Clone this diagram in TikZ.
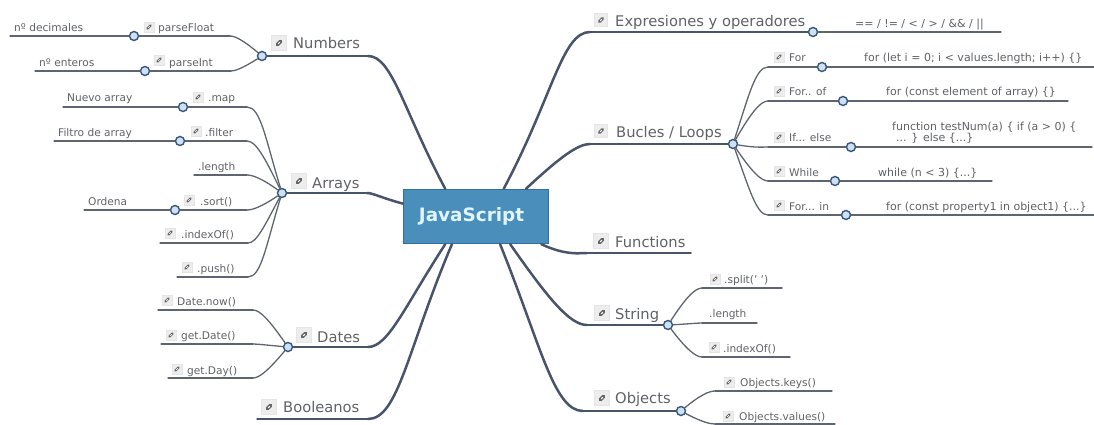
\documentclass[tikz,border=0pt]{standalone}
\usepackage{fontspec}
\setmainfont{DejaVu Sans}
\usepackage{tikz}
\usepackage{xcolor}
\definecolor{rootblue}{HTML}{4A8FBB}
\definecolor{rootedge}{HTML}{336F9E}
\definecolor{trunkcol}{HTML}{48546A}
\definecolor{twigcol}{HTML}{5F656F}
\definecolor{dotfill}{HTML}{CFE0F3}
\definecolor{dotedge}{HTML}{35587F}
\definecolor{txtcol}{HTML}{5F6266}
\tikzset{
  root/.style={rectangle,fill=rootblue,draw=rootedge,line width=1.4pt,text=white!88!cyan,font=\fontsize{18.4}{21}\selectfont\bfseries,minimum width=145pt,minimum height=54pt,inner sep=0pt},
  dot/.style={circle,fill=dotfill,draw=dotedge,line width=1.4pt,minimum size=9pt,inner sep=0pt},
  big/.style={anchor=base west,inner sep=0pt,text=txtcol,font=\fontsize{14.7}{17}\selectfont},
  small/.style={anchor=base west,inner sep=0pt,text=txtcol,font=\fontsize{10.6}{12.5}\selectfont},
  code/.style={anchor=base west,inner sep=0pt,text=txtcol,font=\fontsize{11}{12.5}\selectfont},
  linkicon/.style={rectangle,fill=black!7,draw=black!10,line width=0.4pt,minimum size=#1 pt,inner sep=0pt,
    path picture={
      \draw[shift={(path picture bounding box.center)},scale=0.1*#1,color=black!60,line width=0.24*#1 pt,line cap=round] (-1.6,1.6) -- (1.6,-1.6);
      \draw[shift={(path picture bounding box.center)},scale=0.1*#1,color=white,line width=0.07*#1 pt] (-0.8,0.8) -- (0.8,-0.8);
    }},
  trunk/.style={color=trunkcol,line width=2.5pt,line cap=round},
  limb/.style={color=trunkcol,line width=1.5pt,line cap=round},
  twig/.style={color=twigcol,line width=1.3pt,line cap=round},
  bow/.style={out looseness=1.5,in looseness=0.4},
}
\begin{document}
\begin{tikzpicture}[x=1pt,y=-1pt]
\useasboundingbox (0,0) rectangle (1094,425);
\node (root) [root] at (476,216.5) {\raisebox{-3pt}{JavaScript}\hspace*{9pt}};
% left side
\node (numdot) [dot] at (262,56) {};
\node (pfdot) [dot] at (134,36) {};
\node (pidot) [dot] at (145,71) {};
\node (arrdot) [dot] at (282,193) {};
\node (mapdot) [dot] at (183,107) {};
\node (fildot) [dot] at (180,141) {};
\node (sortdot) [dot] at (175,210) {};
\node (datedot) [dot] at (288,347) {};
% right side
\node (expdot) [dot] at (813,32) {};
\node (loopdot) [dot] at (733,144) {};
\node (fordot) [dot] at (822,67) {};
\node (ofdot) [dot] at (843,101) {};
\node (ifdot) [dot] at (851,147) {};
\node (whdot) [dot] at (835,181) {};
\node (indot) [dot] at (846,215) {};
\node (strdot) [dot] at (668,325) {};
\node (objdot) [dot] at (681,411) {};
%
\coordinate (numel) at (368,56);
\coordinate (pfel) at (230,36);
\coordinate (pfend) at (10,36);
\coordinate (piel) at (231,71);
\coordinate (piend) at (35,71);
\coordinate (arrel) at (367,193);
\coordinate (mapel) at (247,107);
\coordinate (mapend) at (63,107);
\coordinate (filel) at (247,141);
\coordinate (filend) at (54,141);
\coordinate (lenel) at (247,175);
\coordinate (lenend) at (194,175);
\coordinate (sortel) at (247,210);
\coordinate (sortend) at (84,210);
\coordinate (idxel) at (248,243);
\coordinate (idxend) at (160,243);
\coordinate (pushel) at (248,277);
\coordinate (pushend) at (177,277);
\coordinate (dateel) at (368,347);
\coordinate (nowel) at (253,310);
\coordinate (nowend) at (158,310);
\coordinate (getel) at (253,344);
\coordinate (getend) at (161,344);
\coordinate (dayel) at (253,378);
\coordinate (dayend) at (168,378);
\coordinate (boolel) at (368,419);
\coordinate (boolend) at (257,419);
%
\coordinate (expel) at (590,32);
\coordinate (expend) at (1001,32);
\coordinate (loopel) at (590,144);
\coordinate (forel) at (768,67);
\coordinate (forend) at (1094,67);
\coordinate (ofel) at (768,101);
\coordinate (ofend) at (1068,101);
\coordinate (ifel) at (768,147);
\coordinate (ifend) at (1092,147);
\coordinate (whel) at (768,181);
\coordinate (whend) at (992,181);
\coordinate (inel) at (768,215);
\coordinate (inend) at (1094,215);
\coordinate (funel) at (587,253);
\coordinate (funend) at (691,253);
\coordinate (strel) at (587,325);
\coordinate (splel) at (702,288);
\coordinate (splend) at (782,288);
\coordinate (slenel) at (702,323);
\coordinate (slenend) at (757,323);
\coordinate (sidxel) at (702,357);
\coordinate (sidxend) at (790,357);
\coordinate (objel) at (583,411);
\coordinate (keyel) at (715,391);
\coordinate (keyend) at (832,391);
\coordinate (valel) at (715,424);
\coordinate (valend) at (835,424);
% trunks out of the root
\path[trunk] (root.138) edge[bow,out=118,in=0] (numel);
\path[trunk] (root.170) edge[bow,out=165,in=0] (arrel);
\path[trunk] (root.222) edge[bow,out=237,in=0] (dateel);
\path[trunk] (root.229) edge[bow,out=247,in=0] (boolel);
\path[trunk] (root.45) edge[bow,out=62,in=180] (expel);
\path[trunk] (root.29) edge[bow,out=43,in=180] (loopel);
\path[trunk] (root.-23) edge[bow,out=-25,in=180] (funel);
\path[trunk] (root.-39) edge[bow,out=-55,in=180] (strel);
\path[trunk] (root.-49) edge[bow,out=-68,in=180] (objel);
%
\path[limb] (numel) edge (numdot);
\path[limb] (arrel) edge (arrdot);
\path[limb] (dateel) edge (datedot);
\path[limb] (boolel) edge (boolend);
\path[limb] (expel) edge (expdot);
\path[limb] (loopel) edge (loopdot);
\path[limb] (funel) edge (funend);
\path[limb] (strel) edge (strdot);
\path[limb] (objel) edge (objdot);
% branches on the left
\path[twig] (numdot) edge[bow,out=140,in=0] (pfel);
\path[twig] (numdot) edge[bow,out=212,in=0] (piel);
\path[twig] (pfel) edge (pfdot);
\path[twig] (pfdot) edge (pfend);
\path[twig] (piel) edge (pidot);
\path[twig] (pidot) edge (piend);
\path[twig] (arrdot) edge[bow,out=107,in=0] (mapel);
\path[twig] (arrdot) edge[bow,out=116,in=0] (filel);
\path[twig] (arrdot) edge[bow,out=144,in=0] (lenel);
\path[twig] (arrdot) edge[bow,out=214,in=0] (sortel);
\path[twig] (arrdot) edge[bow,out=242,in=0] (idxel);
\path[twig] (arrdot) edge[bow,out=253,in=0] (pushel);
\path[twig] (mapel) edge (mapdot);
\path[twig] (mapdot) edge (mapend);
\path[twig] (filel) edge (fildot);
\path[twig] (fildot) edge (filend);
\path[twig] (lenel) edge (lenend);
\path[twig] (sortel) edge (sortdot);
\path[twig] (sortdot) edge (sortend);
\path[twig] (idxel) edge (idxend);
\path[twig] (pushel) edge (pushend);
\path[twig] (datedot) edge[bow,out=125,in=0] (nowel);
\path[twig] (datedot) edge[bow,out=175,in=0] (getel);
\path[twig] (datedot) edge[bow,out=230,in=0] (dayel);
\path[twig] (nowel) edge (nowend);
\path[twig] (getel) edge (getend);
\path[twig] (dayel) edge (dayend);
% branches on the right
\path[twig] (expdot) edge (expend);
\path[twig] (loopdot) edge[bow,out=72,in=180] (forel);
\path[twig] (loopdot) edge[bow,out=60,in=180] (ofel);
\path[twig] (loopdot) edge[bow,out=-10,in=180] (ifel);
\path[twig] (loopdot) edge[bow,out=-56,in=180] (whel);
\path[twig] (loopdot) edge[bow,out=-70,in=180] (inel);
\path[twig] (forel) edge (fordot);
\path[twig] (fordot) edge (forend);
\path[twig] (ofel) edge (ofdot);
\path[twig] (ofdot) edge (ofend);
\path[twig] (ifel) edge (ifdot);
\path[twig] (ifdot) edge (ifend);
\path[twig] (whel) edge (whdot);
\path[twig] (whdot) edge (whend);
\path[twig] (inel) edge (indot);
\path[twig] (indot) edge (inend);
\path[twig] (strdot) edge[bow,out=57,in=180] (splel);
\path[twig] (strdot) edge[bow,out=3,in=180] (slenel);
\path[twig] (strdot) edge[bow,out=-53,in=180] (sidxel);
\path[twig] (splel) edge (splend);
\path[twig] (slenel) edge (slenend);
\path[twig] (sidxel) edge (sidxend);
\path[twig] (objdot) edge[bow,out=40,in=180] (keyel);
\path[twig] (objdot) edge[bow,out=-28,in=180] (valel);
\path[twig] (keyel) edge (keyend);
\path[twig] (valel) edge (valend);
% labels on the left
\node (numicon) [linkicon=15] at (279,43) {};
\node (numtxt) [big] at (293,49) {Numbers};
\node (pficon) [linkicon=10] at (149,27) {};
\node (pftxt) [small] at (158,32) {parseFloat};
\node (pfnote) [small] at (14,32) {nº decimales};
\node (piicon) [linkicon=10] at (159,60) {};
\node (pitxt) [small] at (169,67) {parseInt};
\node (pinote) [small] at (39,67) {nº enteros};
\node (arricon) [linkicon=15] at (299,181) {};
\node (arrtxt) [big] at (312,188) {Arrays};
\node (mapicon) [linkicon=10] at (198,97) {};
\node (maptxt) [small] at (208,102) {.map};
\node (mapnote) [small] at (67,102) {Nuevo array};
\node (filicon) [linkicon=10] at (196,131) {};
\node (filtxt) [small] at (205,136) {.filter};
\node (filnote) [small] at (58,136) {Filtro de array};
\node (lentxt) [small] at (198,170) {.length};
\node (sorticon) [linkicon=10] at (189,200) {};
\node (sorttxt) [small] at (200,205) {.sort()};
\node (sortnote) [small] at (88,205) {Ordena};
\node (idxicon) [linkicon=10] at (170,233) {};
\node (idxtxt) [small] at (181,238) {.indexOf()};
\node (pushicon) [linkicon=10] at (187,267) {};
\node (pushtxt) [small] at (197,272) {.push()};
\node (dateicon) [linkicon=15] at (304,335) {};
\node (datetxt) [big] at (317,342) {Dates};
\node (nowicon) [linkicon=10] at (167,300) {};
\node (nowtxt) [small] at (177,305) {Date.now()};
\node (geticon) [linkicon=10] at (171,335) {};
\node (gettxt) [small] at (181,339) {get.Date()};
\node (dayicon) [linkicon=10] at (177,369) {};
\node (daytxt) [small] at (187,374) {get.Day()};
\node (boolicon) [linkicon=15] at (269,407) {};
\node (booltxt) [big] at (283,412) {Booleanos};
% labels on the right
\node (expicon) [linkicon=13] at (601,20) {};
\node (exptxt) [big] at (615,27) {Expresiones y operadores};
\node (expnote) [code] at (855,28) {== / != / < / > / \&\& / ||};
\node (loopicon) [linkicon=13] at (601,131) {};
\node (looptxt) [big] at (616,137) {Bucles / Loops};
\node (foricon) [linkicon=10] at (779,57) {};
\node (fortxt) [small] at (789,62) {For};
\node (fornote) [code] at (864,62) {for (let i = 0; i < values.length; i++) \{\}};
\node (oficon) [linkicon=10] at (779,91) {};
\node (oftxt) [small] at (789,96) {For.. of};
\node (ofnote) [code] at (886,96) {for (const element of array) \{\}};
\node (ificon) [linkicon=10] at (779,137) {};
\node (iftxt) [small] at (789,142) {If... else};
\node (ifnote) [code] at (892,130) {function testNum(a) \{ if (a > 0) \{};
\node (ifnotb) [code] at (896,142) {... \} else \{...\}};
\node (whicon) [linkicon=10] at (779,171) {};
\node (whtxt) [small] at (789,176) {While};
\node (whnote) [code] at (878,176) {while (n < 3) \{...\}};
\node (inicon) [linkicon=10] at (779,205) {};
\node (intxt) [small] at (789,210) {For... in};
\node (innote) [code] at (886,210) {for (const property1 in object1) \{...\}};
\node (funicon) [linkicon=15] at (601,241) {};
\node (funtxt) [big] at (615,247) {Functions};
\node (stricon) [linkicon=15] at (602,313) {};
\node (strtxt) [big] at (615,319) {String};
\node (splicon) [linkicon=10] at (715,279) {};
\node (spltxt) [small] at (724,283) {.split(' ')};
\node (slentxt) [small] at (709,317) {.length};
\node (sidxicon) [linkicon=10] at (714,347) {};
\node (sidxtxt) [small] at (723,352) {.indexOf()};
\node (objicon) [linkicon=15] at (602,398) {};
\node (objtxt) [big] at (615,403) {Objects};
\node (keyicon) [linkicon=10] at (729,382) {};
\node (keytxt) [small] at (740,386) {Objects.keys()};
\node (valicon) [linkicon=10] at (728,416) {};
\node (valtxt) [small] at (739,420) {Objects.values()};
\end{tikzpicture}
\end{document}
